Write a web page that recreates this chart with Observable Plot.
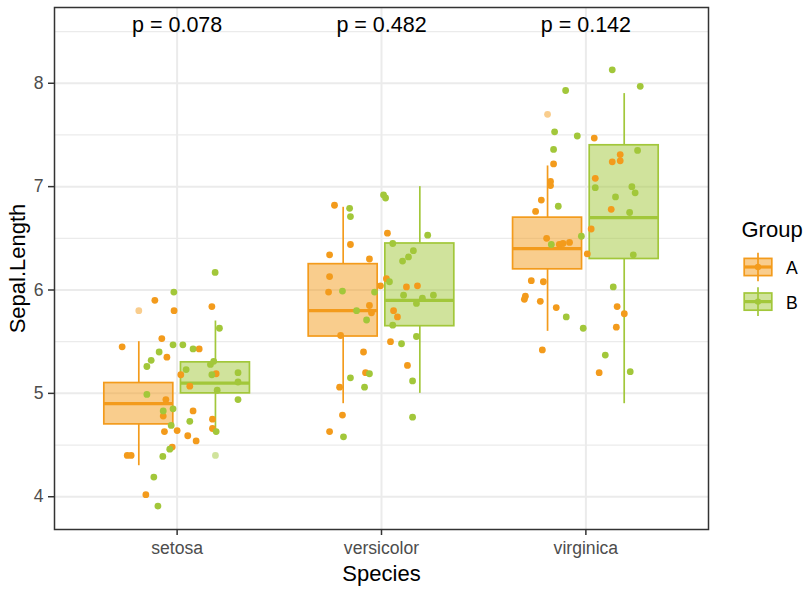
<!DOCTYPE html>
<html><head><meta charset="utf-8">
<script src="https://cdn.jsdelivr.net/npm/d3@7"></script>
<script src="https://cdn.jsdelivr.net/npm/@observablehq/plot@0.6"></script>
<style>
body{margin:0;background:#fff;}
#wrap{position:relative;width:811px;height:591px;font-family:"Liberation Sans",Arial,sans-serif;}
#legend{position:absolute;left:0;top:0;pointer-events:none;}
</style>
</head><body><div id="wrap"></div>
<script>
// ---- data ----
const species = ["setosa", "versicolor", "virginica"];
const groups = ["A", "B"];
const groupColors = ["#F39B1C", "#A2C73A"];
const pLabels = ["p = 0.078", "p = 0.482", "p = 0.142"];
const yMajorTicks = [4, 5, 6, 7, 8];
const yMinorTicks = [4.5, 5.5, 6.5, 7.5, 8.5];

// box statistics per group, in species order
const q1 = {A: [4.7, 5.55, 6.2], B: [5.0, 5.65, 6.3]};
const median = {A: [4.9, 5.8, 6.4], B: [5.1, 5.9, 6.7]};
const q3 = {A: [5.1, 6.25, 6.7], B: [5.3, 6.45, 7.4]};
const whiskerLow = {A: [4.3, 4.9, 5.6], B: [4.6, 5.0, 4.9]};
const whiskerHigh = {A: [5.5, 6.8, 7.2], B: [5.7, 7.0, 7.9]};
const outlierSpecies = ["setosa", "setosa", "virginica"];
const outlierGroup = ["A", "B", "A"];
const outlierValue = [5.8, 4.4, 7.7];

// jittered points: [horizontal jitter (category units), Sepal.Length]
const setosaA = [[-0.109,5.90],[0.170,5.84],[-0.015,5.80],[-0.075,5.53],[-0.269,5.45],[-0.050,5.35],[0.108,5.43],[0.018,5.18],[0.191,5.19],[0.062,5.07],[-0.055,4.94],[-0.068,4.78],[0.078,4.83],[0.173,4.75],[0.173,4.66],[-0.062,4.63],[0.000,4.64],[0.052,4.59],[0.093,4.54],[-0.024,4.48],[-0.244,4.40],[-0.225,4.40],[-0.153,4.02]];
const setosaB = [[0.186,6.17],[-0.016,5.98],[0.207,5.63],[-0.020,5.47],[0.028,5.47],[-0.088,5.40],[0.078,5.43],[-0.127,5.32],[-0.148,5.26],[0.163,5.28],[0.179,5.31],[0.044,5.23],[0.170,5.18],[0.298,5.20],[0.298,5.11],[0.196,5.03],[-0.148,4.99],[0.298,4.94],[-0.068,4.83],[-0.020,4.85],[-0.029,4.69],[0.062,4.73],[0.191,4.63],[-0.036,4.46],[-0.070,4.39],[-0.114,4.19],[-0.094,3.91]];
const versicolorA = [[-0.230,6.82],[0.029,6.55],[-0.152,6.44],[-0.254,6.34],[-0.059,6.30],[-0.254,6.13],[0.024,6.11],[-0.005,6.04],[0.122,6.03],[0.176,6.04],[-0.259,5.98],[-0.059,5.85],[-0.049,5.78],[0.059,5.80],[0.078,5.74],[-0.200,5.56],[0.044,5.50],[-0.088,5.40],[0.127,5.27],[-0.078,5.20],[-0.205,5.06],[-0.191,4.79],[-0.254,4.63]];
const versicolorB = [[-0.156,6.79],[-0.152,6.71],[0.010,6.92],[0.020,6.89],[0.055,6.45],[0.226,6.53],[0.156,6.38],[0.132,6.32],[0.103,6.28],[0.039,6.08],[-0.191,5.99],[-0.034,5.98],[0.108,5.95],[0.200,5.92],[0.254,5.95],[-0.122,5.80],[0.171,5.87],[-0.073,5.71],[0.055,5.66],[0.171,5.55],[0.098,5.48],[-0.059,5.19],[-0.152,5.15],[0.152,5.12],[-0.083,5.06],[-0.186,4.58],[0.152,4.77]];
const virginicaA = [[0.041,7.47],[0.168,7.31],[0.168,7.25],[0.129,7.24],[-0.158,7.22],[0.046,7.08],[-0.173,7.05],[-0.173,7.01],[-0.218,6.87],[-0.246,6.76],[0.124,6.78],[0.026,6.59],[-0.192,6.50],[-0.130,6.44],[-0.112,6.45],[-0.080,6.46],[0.007,6.35],[-0.267,6.09],[-0.208,6.08],[-0.296,5.94],[-0.301,5.91],[-0.223,5.89],[-0.145,5.83],[0.153,5.84],[0.188,5.77],[0.149,5.64],[-0.213,5.42],[0.065,5.20]];
const virginicaB = [[0.129,8.13],[0.266,7.97],[-0.099,7.93],[-0.153,7.53],[-0.042,7.49],[-0.158,7.36],[0.253,7.35],[0.046,6.99],[0.225,7.00],[0.241,6.94],[0.145,6.90],[-0.135,6.81],[0.214,6.75],[-0.022,6.52],[-0.169,6.44],[0.232,6.34],[0.134,6.03],[-0.096,5.74],[-0.013,5.63],[0.095,5.37],[0.217,5.21]];

// ---- layout constants (ggplot dodge2 geometry) ----
const dodge = 0.1875, half = 0.16875;
const catPos = s => species.indexOf(s) + 1;
const boxPos = (s, g) => catPos(s) + (g === "A" ? -dodge : dodge);

const boxes = groups.flatMap(g => species.map((s, i) => ({
  species: s, group: g, pos: boxPos(s, g),
  q1: q1[g][i], median: median[g][i], q3: q3[g][i], lo: whiskerLow[g][i], hi: whiskerHigh[g][i]
})));
const outliers = outlierValue.map((v, i) => ({group: outlierGroup[i], pos: boxPos(outlierSpecies[i], outlierGroup[i]), value: v}));
const jitter = {setosaA, setosaB, versicolorA, versicolorB, virginicaA, virginicaB};
const points = species.flatMap(s => groups.flatMap(g => jitter[s + g].map(([dx, v]) => ({group: g, x: catPos(s) + dx, y: v}))));

const chart = Plot.plot({
  width: 811, height: 591,
  marginLeft: 54, marginRight: 103, marginTop: 7, marginBottom: 62,
  style: {fontFamily: '"Liberation Sans", Arial, sans-serif', background: "#fff"},
  x: {domain: [0.4, 3.6]},
  y: {domain: [3.683, 8.733]},
  color: {domain: groups, range: groupColors},
  marks: [
    Plot.ruleY(yMinorTicks, {stroke: "#EBEBEB", strokeWidth: 1.2}),
    Plot.ruleY(yMajorTicks, {stroke: "#EBEBEB", strokeWidth: 2}),
    Plot.ruleX([1, 2, 3], {stroke: "#EBEBEB", strokeWidth: 2}),
    Plot.ruleX(boxes, {x: "pos", y1: "q3", y2: "hi", stroke: "group", strokeWidth: 1.7}),
    Plot.ruleX(boxes, {x: "pos", y1: "lo", y2: "q1", stroke: "group", strokeWidth: 1.7}),
    Plot.rect(boxes, {x1: d => d.pos - half, x2: d => d.pos + half, y1: "q1", y2: "q3", fill: "group", fillOpacity: 0.5, stroke: "group", strokeWidth: 1.7}),
    Plot.ruleY(boxes, {y: "median", x1: d => d.pos - half, x2: d => d.pos + half, stroke: "group", strokeWidth: 3.2}),
    Plot.dot(outliers, {x: "pos", y: "value", r: 3.4, fill: "group", fillOpacity: 0.5, stroke: null}),
    Plot.dot(points, {x: "x", y: "y", r: 3.4, fill: "group", stroke: null}),
    Plot.text(pLabels, {x: (d, i) => i + 1, text: d => d, frameAnchor: "top", lineAnchor: "bottom", dy: 24.5, fontSize: 21.5, fill: "#000"}),
    Plot.frame({stroke: "#333", strokeWidth: 1.5}),
    Plot.axisX({ticks: [1, 2, 3], tickFormat: d => species[d - 1], tickSize: 6, tickPadding: 6, fontSize: 17.6, stroke: "#333", fill: "#4D4D4D", strokeWidth: 1.5, label: null}),
    Plot.axisY({ticks: yMajorTicks, tickFormat: d => String(d), tickSize: 6, tickPadding: 5, fontSize: 17.6, stroke: "#333", fill: "#4D4D4D", strokeWidth: 1.5, label: null}),
    Plot.text(["Species"], {text: d => d, frameAnchor: "bottom", textAnchor: "middle", lineAnchor: "bottom", dy: 51, fontSize: 22, fill: "#000"}),
    Plot.text(["Sepal.Length"], {text: d => d, frameAnchor: "left", textAnchor: "middle", lineAnchor: "bottom", rotate: -90, dx: -29.5, fontSize: 22, fill: "#000"})
  ]
});
document.getElementById("wrap").appendChild(chart);

// ---- legend (ggplot-style boxplot keys) ----
const legend = d3.select("#wrap").append("svg").attr("id", "legend").attr("width", 811).attr("height", 591)
  .style("font-family", '"Liberation Sans", Arial, sans-serif');
legend.append("text").attr("x", 741.5).attr("y", 236.7).attr("font-size", 22).attr("fill", "#000").text("Group");
groups.forEach((g, i) => {
  const cy = 267 + i * 34.6, cx = 758, col = groupColors[i];
  const k = legend.append("g");
  k.append("line").attr("x1", cx).attr("x2", cx).attr("y1", cy - 14.3).attr("y2", cy + 14.3).attr("stroke", col).attr("stroke-width", 1.7);
  k.append("rect").attr("x", cx - 13.8).attr("y", cy - 8.6).attr("width", 27.6).attr("height", 17.2)
    .attr("fill", col).attr("fill-opacity", 0.5).attr("stroke", col).attr("stroke-width", 1.7);
  k.append("line").attr("x1", cx - 13.8).attr("x2", cx + 13.8).attr("y1", cy).attr("y2", cy).attr("stroke", col).attr("stroke-width", 3.2);
  k.append("circle").attr("cx", cx).attr("cy", cy).attr("r", 3.2).attr("fill", col);
  legend.append("text").attr("x", 786).attr("y", cy + 7).attr("font-size", 17.6).attr("fill", "#000").text(g);
});
</script>
</body></html>
